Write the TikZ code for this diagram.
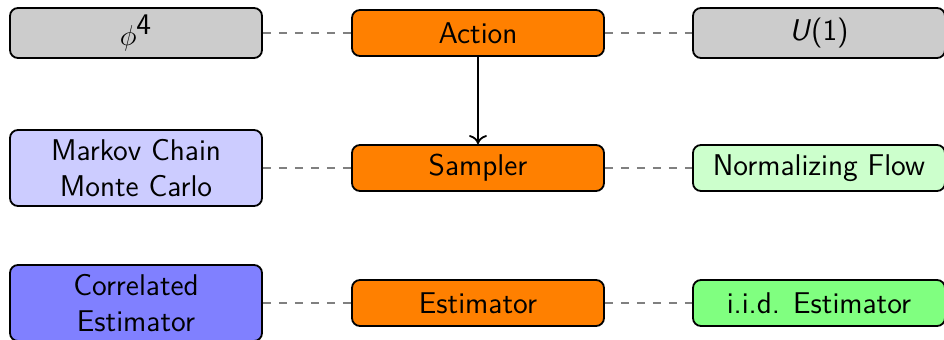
\documentclass[tikz,border=0pt]{standalone}
\usetikzlibrary{arrows.meta}
\begin{document}
\begin{tikzpicture}[x=0.5pt,y=-0.5pt, font=\sffamily\fontsize{15}{18}\selectfont,
  box/.style={draw=black, line width=0.9pt, rounded corners=4pt, align=center, inner sep=0pt, minimum width=126pt},
  short/.style={minimum height=23pt},
  tall/.style={minimum height=38pt},
  link/.style={draw=gray, dash pattern=on 4pt off 4pt, line width=0.6pt},
  flow/.style={draw=black, line width=0.9pt, -{To[length=4.5pt,width=9pt]}}
]
\useasboundingbox (0,0) rectangle (944,339);
% left column
\node[box, fill=black!20, minimum height=25pt] (phi) at (136,33) {$\phi^{\textsf{4}}$};
\node[box, tall, fill=blue!20] (mcmc) at (136,168) {Markov Chain\\Monte Carlo};
\node[box, tall, fill=blue!50] (corr) at (136,303) {Correlated\\Estimator};
% center column
\node[box, short, fill=orange] (action) at (478,33) {Action};
\node[box, short, fill=orange] (sampler) at (478,168) {Sampler};
\node[box, short, fill=orange] (estim) at (478,303) {Estimator};
% right column
\node[box, fill=black!20, minimum height=25pt] (u1) at (819,33) {\textit{U}(1)};
\node[box, short, fill=green!20] (nf) at (819,168) {Normalizing Flow};
\node[box, short, fill=green!50] (iid) at (819,303) {i.i.d. Estimator};
% connectors
\draw[link] (phi) -- (action);
\draw[link] (action) -- (u1);
\draw[link] (mcmc) -- (sampler);
\draw[link] (sampler) -- (nf);
\draw[link] (corr) -- (estim);
\draw[link] (estim) -- (iid);
\draw[flow] (action) -- (sampler);
\end{tikzpicture}
\end{document}
